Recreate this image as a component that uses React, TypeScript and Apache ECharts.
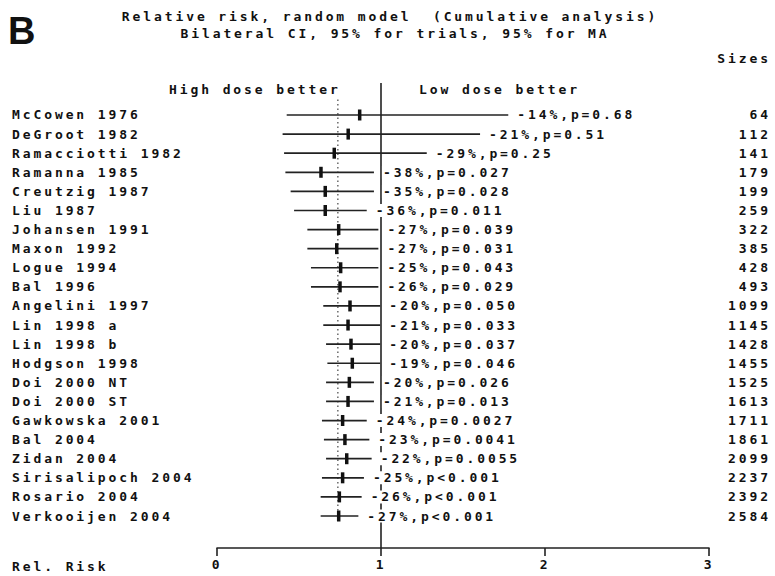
import React, { useEffect, useRef } from "react";
import * as echarts from "echarts";

const studies = [
  "McCowen 1976", "DeGroot 1982", "Ramacciotti 1982", "Ramanna 1985", "Creutzig 1987",
  "Liu 1987", "Johansen 1991", "Maxon 1992", "Logue 1994", "Bal 1996", "Angelini 1997",
  "Lin 1998 a", "Lin 1998 b", "Hodgson 1998", "Doi 2000 NT", "Doi 2000 ST",
  "Gawkowska 2001", "Bal 2004", "Zidan 2004", "Sirisalipoch 2004", "Rosario 2004", "Verkooijen 2004",
];
const sizes = [64, 112, 141, 179, 199, 259, 322, 385, 428, 493, 1099, 1145, 1428, 1455, 1525, 1613, 1711, 1861, 2099, 2237, 2392, 2584];
const rrEstimate = [0.87, 0.80, 0.715, 0.634, 0.66, 0.66, 0.742, 0.73, 0.754, 0.75, 0.811, 0.799, 0.817, 0.825, 0.807, 0.799, 0.766, 0.78, 0.791, 0.766, 0.746, 0.742];
const ciLower = [0.425, 0.40, 0.409, 0.417, 0.449, 0.47, 0.551, 0.551, 0.573, 0.573, 0.648, 0.648, 0.665, 0.673, 0.665, 0.665, 0.640, 0.652, 0.665, 0.640, 0.632, 0.632];
const ciUpper = [1.776, 1.604, 1.279, 0.957, 0.957, 0.913, 0.984, 0.984, 0.984, 0.984, 0.995, 0.995, 0.995, 0.995, 0.957, 0.957, 0.913, 0.929, 0.943, 0.896, 0.882, 0.862];
const resultLabels = [
  "-14%,p=0.68", "-21%,p=0.51", "-29%,p=0.25", "-38%,p=0.027", "-35%,p=0.028", "-36%,p=0.011",
  "-27%,p=0.039", "-27%,p=0.031", "-25%,p=0.043", "-26%,p=0.029", "-20%,p=0.050", "-21%,p=0.033",
  "-20%,p=0.037", "-19%,p=0.046", "-20%,p=0.026", "-21%,p=0.013", "-24%,p=0.0027", "-23%,p=0.0041",
  "-22%,p=0.0055", "-25%,p<0.001", "-26%,p<0.001", "-27%,p<0.001",
];
const pooledRR = 0.737;
const xTicks = [0, 1, 2, 3];

const FONT_FAMILY = "'DejaVu Sans Mono', 'Liberation Mono', monospace";
const FONT = `bold 13px ${FONT_FAMILY}`;
const INK = "#111";
const LINE = "#222";
const AXIS_GAP = 22.45;

export default function App() {
  const ref = useRef<HTMLDivElement>(null);
  useEffect(() => {
    if (!ref.current) return;
    const chart = echarts.init(ref.current, null, { renderer: "svg" });
    const option: any = {
      animation: false,
      backgroundColor: "#fff",
      grid: { left: 217, right: 66, top: 105.45, bottom: 50.45, containLabel: false },
      xAxis: {
        type: "value",
        min: xTicks[0],
        max: xTicks[xTicks.length - 1],
        interval: 1,
        offset: AXIS_GAP,
        axisLine: { show: true, lineStyle: { color: LINE, width: 1.6 } },
        axisTick: { show: true, length: 8, lineStyle: { color: LINE, width: 1.6 } },
        splitLine: { show: false },
        axisLabel: { margin: 10, fontFamily: FONT_FAMILY, fontWeight: "bold", fontSize: 13, color: INK },
      },
      yAxis: [
        {
          type: "category",
          data: studies,
          inverse: true,
          axisLine: { show: false },
          axisTick: { show: false },
          splitLine: { show: false },
          axisLabel: { align: "left", margin: 205, fontFamily: FONT_FAMILY, fontWeight: "bold", fontSize: 13, color: INK },
        },
        {
          type: "category",
          data: sizes.map(String),
          inverse: true,
          position: "right",
          axisLine: { show: false },
          axisTick: { show: false },
          splitLine: { show: false },
          axisLabel: { align: "right", margin: 62, fontFamily: FONT_FAMILY, fontWeight: "bold", fontSize: 13, color: INK },
        },
      ],
      graphic: [
        { type: "text", x: 8, y: 31, style: { text: "B", font: "bold 38px 'Liberation Sans', Arial, sans-serif", fill: INK, textAlign: "left", textVerticalAlign: "middle" } },
        { type: "text", x: 390, y: 16, style: { text: "Relative risk, random model  (Cumulative analysis)", font: FONT, fill: INK, textAlign: "center", textVerticalAlign: "middle" } },
        { type: "text", x: 395, y: 33, style: { text: "Bilateral CI, 95% for trials, 95% for MA", font: FONT, fill: INK, textAlign: "center", textVerticalAlign: "middle" } },
        { type: "text", x: 771, y: 58, style: { text: "Sizes", font: FONT, fill: INK, textAlign: "right", textVerticalAlign: "middle" } },
        { type: "text", x: 169, y: 89, style: { text: "High dose better", font: FONT, fill: INK, textAlign: "left", textVerticalAlign: "middle" } },
        { type: "text", x: 419, y: 89, style: { text: "Low dose better", font: FONT, fill: INK, textAlign: "left", textVerticalAlign: "middle" } },
        { type: "text", x: 12, y: 566, style: { text: "Rel. Risk", font: FONT, fill: INK, textAlign: "left", textVerticalAlign: "middle" } },
      ],
      series: [
        {
          type: "custom",
          z: 1,
          silent: true,
          data: [[1, 0]],
          encode: { x: 0, y: 1 },
          renderItem: (params: any, api: any) => {
            const cs = params.coordSys;
            const x1 = api.coord([1, 0])[0];
            const xp = api.coord([pooledRR, 0])[0];
            return {
              type: "group",
              children: [
                { type: "line", shape: { x1, y1: cs.y - AXIS_GAP, x2: x1, y2: cs.y + cs.height + AXIS_GAP }, style: { stroke: LINE, lineWidth: 1.6 } },
                { type: "line", shape: { x1: xp, y1: cs.y - 6, x2: xp, y2: cs.y + cs.height - 3.5 }, style: { stroke: "#444", lineWidth: 1.2, lineDash: [1.5, 3] } },
              ],
            };
          },
        },
        {
          type: "custom",
          z: 2,
          silent: true,
          data: studies.map((_, i) => [i, ciLower[i], rrEstimate[i], ciUpper[i]]),
          encode: { y: 0, x: [1, 2, 3] },
          renderItem: (params: any, api: any) => {
            const idx = api.value(0);
            const lo = api.coord([api.value(1), idx]);
            const est = api.coord([api.value(2), idx]);
            const hi = api.coord([api.value(3), idx]);
            const y = est[1];
            return {
              type: "group",
              children: [
                { type: "line", shape: { x1: lo[0], y1: y, x2: hi[0], y2: y }, style: { stroke: LINE, lineWidth: 1.7 } },
                { type: "rect", shape: { x: est[0] - 1.75, y: y - 5.5, width: 3.5, height: 11 }, style: { fill: "#111" } },
                {
                  type: "text",
                  x: hi[0] + 8,
                  y: y,
                  style: {
                    text: resultLabels[params.dataIndex],
                    font: FONT,
                    fill: INK,
                    textAlign: "left",
                    textVerticalAlign: "middle",
                    backgroundColor: "#fff",
                    padding: [0, 1, 0, 1],
                  },
                },
              ],
            };
          },
        },
      ],
    };
    chart.setOption(option);
    return () => chart.dispose();
  }, []);
  return (
    <div
      ref={ref}
      style={{ position: "fixed", left: 0, top: 0, width: 775, height: 576, background: "#fff", letterSpacing: "2.9px" }}
    />
  );
}
